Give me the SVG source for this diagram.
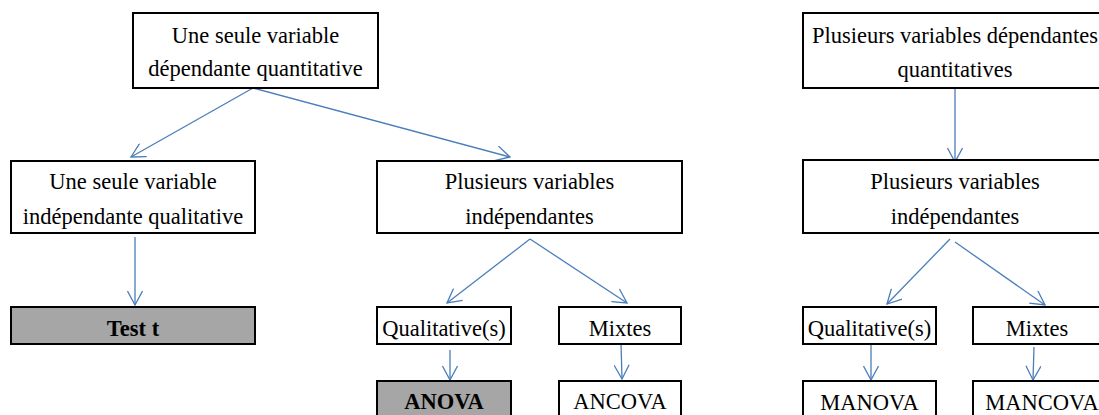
<svg xmlns="http://www.w3.org/2000/svg" width="1099" height="415" viewBox="0 0 1099 415">
<defs>
<style>
.box{fill:#ffffff;stroke:#000000;stroke-width:2}
.gray{fill:#a6a6a6;stroke:#000000;stroke-width:2}
text{font-family:"Liberation Serif","Times New Roman",serif;font-size:22.5px;fill:#000000;text-anchor:middle}
.b{font-weight:bold}
.c{fill:none;stroke:#4a7ebb;stroke-width:1.3;marker-end:url(#arr)}
</style>
<marker id="arr" markerUnits="userSpaceOnUse" markerWidth="16" markerHeight="16" viewBox="0 0 16 16" refX="15" refY="8" orient="auto">
<path d="M1,0.5 L15,8 L1,15.5" fill="none" stroke="#4a7ebb" stroke-width="1.3"/>
</marker>
</defs>
<rect width="1099" height="415" fill="#ffffff"/>
<g id="connectors">
<line class="c" x1="253" y1="88" x2="131" y2="157"/>
<line class="c" x1="253" y1="88" x2="510" y2="157"/>
<line class="c" x1="135" y1="237" x2="135" y2="305"/>
<line class="c" x1="530" y1="239" x2="447" y2="303"/>
<line class="c" x1="530" y1="239" x2="627" y2="303"/>
<line class="c" x1="450" y1="350" x2="450" y2="380"/>
<line class="c" x1="621" y1="343" x2="622" y2="379"/>
<line class="c" x1="955" y1="88" x2="955" y2="162"/>
<line class="c" x1="950" y1="239" x2="887" y2="304"/>
<line class="c" x1="955" y1="242" x2="1045" y2="305"/>
<line class="c" x1="871" y1="344" x2="871" y2="380"/>
<line class="c" x1="1034" y1="347" x2="1033" y2="380"/>
</g>
<g id="n1">
<rect class="box" x="133" y="13" width="245" height="75"/>
<text x="255.5" y="43">Une seule variable</text>
<text x="255.5" y="76">dépendante quantitative</text>
</g>
<g id="n2">
<rect class="box" x="11" y="161" width="244" height="72"/>
<text x="133" y="189">Une seule variable</text>
<text x="133" y="224">indépendante qualitative</text>
</g>
<g id="n3">
<rect class="box" x="377" y="161" width="305" height="72"/>
<text x="529.5" y="189">Plusieurs variables</text>
<text x="529.5" y="224">indépendantes</text>
</g>
<g id="n4">
<rect class="gray" x="11" y="307" width="244" height="37"/>
<text class="b" x="133" y="336">Test t</text>
</g>
<g id="n5">
<rect class="box" x="377" y="307" width="134" height="37"/>
<text x="444" y="336">Qualitative(s)</text>
</g>
<g id="n6">
<rect class="box" x="559" y="307" width="122" height="37"/>
<text x="620" y="336">Mixtes</text>
</g>
<g id="n7">
<rect class="gray" x="377" y="381" width="134" height="45"/>
<text class="b" x="444" y="409">ANOVA</text>
</g>
<g id="n8">
<rect class="box" x="559" y="381" width="122" height="45"/>
<text x="620" y="409">ANCOVA</text>
</g>
<g id="n9">
<rect class="box" x="803" y="13" width="310" height="75"/>
<text x="955" y="43">Plusieurs variables dépendantes</text>
<text x="955" y="77">quantitatives</text>
</g>
<g id="n10">
<rect class="box" x="803" y="160" width="310" height="73"/>
<text x="955" y="189">Plusieurs variables</text>
<text x="955" y="224">indépendantes</text>
</g>
<g id="n11">
<rect class="box" x="803" y="307" width="133" height="37"/>
<text x="869.5" y="336">Qualitative(s)</text>
</g>
<g id="n12">
<rect class="box" x="973" y="307" width="140" height="37"/>
<text x="1037" y="336">Mixtes</text>
</g>
<g id="n13">
<rect class="box" x="803" y="381" width="133" height="45"/>
<text x="869.5" y="410">MANOVA</text>
</g>
<g id="n14">
<rect class="box" x="973" y="381" width="140" height="45"/>
<text x="1042" y="410">MANCOVA</text>
</g>
</svg>
